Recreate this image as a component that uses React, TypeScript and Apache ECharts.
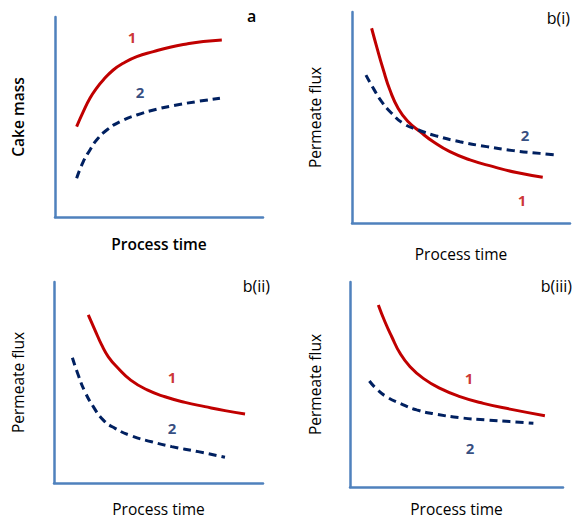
import React, { useEffect, useRef } from "react";
import * as echarts from "echarts";

// Panel a: cake mass vs process time (x, y in 0-100 relative units)
const aCurve1: [number, number][] = [[10.4, 45.2], [13.6, 52.7], [16.8, 59.4], [20.0, 64.4], [23.2, 68.5], [28.0, 73.5], [32.8, 76.9], [39.3, 80.2], [47.3, 82.7], [55.3, 84.9], [63.3, 86.5], [71.3, 87.7], [80.2, 88.5]];
const aCurve2: [number, number][] = [[10.4, 19.4], [13.6, 27.7], [16.8, 33.5], [20.0, 38.5], [24.9, 43.5], [31.3, 47.7], [39.3, 51.0], [48.9, 53.9], [58.5, 56.0], [68.1, 57.7], [79.3, 59.4]];
// Panel b(i)
const b1Curve1: [number, number][] = [[9.0, 92.3], [11.3, 83.6], [14.4, 72.5], [17.4, 63.0], [21.2, 54.3], [25.8, 48.0], [31.2, 43.3], [37.3, 38.5], [44.9, 33.8], [54.1, 29.9], [64.8, 26.7], [75.5, 23.9], [87.5, 21.7]];
const b1Curve2: [number, number][] = [[6.4, 70.1], [9.8, 63.8], [13.6, 57.5], [18.2, 52.0], [23.5, 47.2], [30.4, 44.1], [38.9, 41.2], [49.5, 38.5], [61.8, 36.2], [74.0, 34.3], [86.2, 33.0], [93.9, 32.2]];
// Panel b(ii)
const b2Curve1: [number, number][] = [[16.4, 83.6], [19.6, 76.1], [22.8, 68.7], [26.0, 62.8], [30.8, 57.0], [36.7, 51.2], [44.6, 46.3], [53.1, 42.9], [62.7, 40.1], [72.2, 38.0], [81.8, 36.0], [91.4, 34.3]];
const b2Curve2: [number, number][] = [[8.8, 62.3], [11.6, 53.7], [14.8, 45.4], [18.8, 38.0], [23.6, 31.3], [29.2, 27.2], [37.2, 23.4], [46.7, 20.5], [56.3, 18.1], [69.0, 15.6], [81.8, 12.8]];
// Panel b(iii)
const b3Curve1: [number, number][] = [[13.3, 88.8], [16.4, 80.6], [19.6, 73.3], [23.5, 65.2], [28.2, 58.7], [34.4, 53.0], [42.3, 48.1], [51.6, 44.1], [62.6, 40.8], [75.1, 38.0], [91.5, 34.8]];
const b3Curve2: [number, number][] = [[9.1, 51.7], [12.5, 47.8], [17.2, 44.0], [23.5, 40.8], [31.3, 37.6], [40.7, 35.5], [51.6, 33.8], [64.2, 32.7], [75.1, 31.9], [86.1, 31.1]];

// Curve label positions per panel: [label1, label2]
const aLabels: [number, number][] = [[37.0, 90], [40.9, 62.5]];
const b1Labels: [number, number][] = [[78.0, 10.9], [79.4, 41.7]];
const b2Labels: [number, number][] = [[56.5, 52.7], [56.5, 27.4]];
const b3Labels: [number, number][] = [[55.9, 53.2], [56.3, 19.0]];

const panelTags = ["a", "b(i)", "b(ii)", "b(iii)"];
const yNames = ["Cake mass", "Permeate flux", "Permeate flux", "Permeate flux"];
const xName = "Process time";

const RED = "#C00000";
const NAVY = "#002060";
const AXIS = "#4F81BD";
const FONT = "'Open Sans', 'Liberation Sans', sans-serif";

export default function App() {
  const ref = useRef<HTMLDivElement>(null);
  useEffect(() => {
    if (!ref.current) return;
    const chart = echarts.init(ref.current, undefined, { renderer: "svg" });
    const grids = [
      { left: 55, top: 17, width: 208, height: 200 },
      { left: 352, top: 12, width: 218, height: 211 },
      { left: 54, top: 282, width: 209, height: 201 },
      { left: 350, top: 282, width: 213, height: 205 },
    ];
    const xGaps = [19, 23, 18, 14];
    const yGaps = [29, 29, 28, 27];
    const curves = [
      [aCurve1, aCurve2],
      [b1Curve1, b1Curve2],
      [b2Curve1, b2Curve2],
      [b3Curve1, b3Curve2],
    ];
    const labels = [aLabels, b1Labels, b2Labels, b3Labels];
    const bold = [true, false, false, false];

    const nameStyle = (i: number) => ({
      color: "#000",
      fontSize: 15.5,
      fontFamily: FONT,
      fontWeight: bold[i] ? 600 : "normal",
    });

    const xAxis = grids.map((_, i) => ({
      type: "value",
      gridIndex: i,
      min: 0,
      max: 100,
      name: xName,
      nameLocation: "middle",
      nameGap: xGaps[i],
      nameTextStyle: nameStyle(i),
      axisLine: { show: true, lineStyle: { color: AXIS, width: 2.5 } },
      axisTick: { show: false },
      axisLabel: { show: false },
      splitLine: { show: false },
    }));
    const yAxis = grids.map((_, i) => ({
      type: "value",
      gridIndex: i,
      min: 0,
      max: 100,
      name: yNames[i],
      nameLocation: "middle",
      nameGap: yGaps[i],
      nameTextStyle: nameStyle(i),
      axisLine: { show: true, lineStyle: { color: AXIS, width: 2.5 } },
      axisTick: { show: false },
      axisLabel: { show: false },
      splitLine: { show: false },
    }));

    const series: any[] = [];
    curves.forEach(([c1, c2], i) => {
      series.push({
        type: "line",
        xAxisIndex: i,
        yAxisIndex: i,
        data: c1,
        smooth: 0.5,
        symbol: "none",
        lineStyle: { color: RED, width: 3 },
      });
      series.push({
        type: "line",
        xAxisIndex: i,
        yAxisIndex: i,
        data: c2,
        smooth: 0.5,
        symbol: "none",
        lineStyle: { color: NAVY, width: 3, type: [8, 5] },
      });
      series.push({
        type: "scatter",
        xAxisIndex: i,
        yAxisIndex: i,
        symbolSize: 0,
        data: [
          { name: "1", value: labels[i][0], label: { color: RED } },
          { name: "2", value: labels[i][1], label: { color: NAVY } },
        ],
        label: {
          show: true,
          position: "inside",
          formatter: (p: any) => p.name,
          fontSize: 15,
          fontWeight: "bold",
          fontFamily: FONT,
        },
      });
    });

    const titles = [
      { text: panelTags[0], left: 247, top: 8, bold: true },
      { text: panelTags[1], right: 4, top: 10, bold: false },
      { text: panelTags[2], right: 304, top: 278, bold: false },
      { text: panelTags[3], right: 2, top: 278, bold: false },
    ].map((t) => {
      const { bold: b, ...pos } = t;
      return {
        ...pos,
        padding: 0,
        textStyle: { color: "#000", fontSize: 16, fontFamily: FONT, fontWeight: b ? 600 : "normal" },
      };
    });

    chart.setOption({
      animation: false,
      backgroundColor: "#fff",
      title: titles,
      grid: grids,
      xAxis,
      yAxis,
      series,
    });
    return () => chart.dispose();
  }, []);
  return (
    <div
      ref={ref}
      style={{ position: "absolute", left: 0, top: 0, width: 574, height: 521 }}
    />
  );
}
